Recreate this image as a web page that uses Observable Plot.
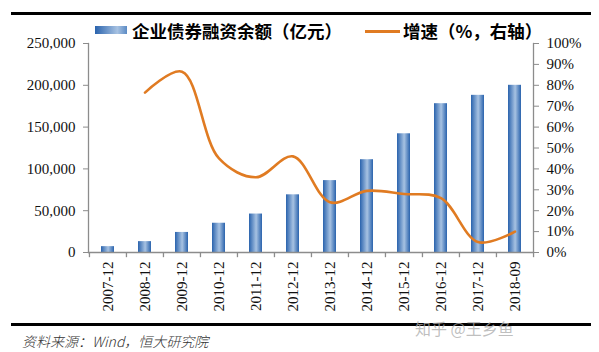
<!DOCTYPE html>
<html><head><meta charset="utf-8">
<script src="https://cdn.jsdelivr.net/npm/d3@7"></script>
<script src="https://cdn.jsdelivr.net/npm/@observablehq/plot@0.6"></script>
<style>
html,body{margin:0;padding:0;background:#fff;}
#wrap{position:relative;width:599px;height:352px;overflow:hidden;background:#fff;}
#wrap svg{position:absolute;left:0;top:0;}
.rule{position:absolute;background:#000;}
.leg{position:absolute;font-family:"Noto Sans CJK SC",sans-serif;font-weight:700;font-size:17.5px;color:#000;white-space:nowrap;line-height:1;}
.src{position:absolute;left:22px;top:331px;font-family:"Noto Sans CJK SC",sans-serif;font-style:italic;font-weight:300;font-size:14px;color:#333;white-space:nowrap;}
.wm{position:absolute;left:415px;top:316px;font-family:"Noto Sans CJK SC",sans-serif;font-size:16px;color:rgba(170,170,170,0.75);white-space:nowrap;}
</style></head>
<body><div id="wrap"></div>
<script>
const categories = ["2007-12","2008-12","2009-12","2010-12","2011-12","2012-12","2013-12","2014-12","2015-12","2016-12","2017-12","2018-09"];
const balance = [7000,13000,24000,35000,46000,69000,86000,111000,142000,178000,188000,200000];
const growth = [null,76.5,86.5,45,36,46,24,29.5,28,26,5,10];
const leftTicks = [0,50000,100000,150000,200000,250000];
const rightTicks = [0,10,20,30,40,50,60,70,80,90,100];
const seriesNames = ["企业债券融资余额（亿元）","增速（%，右轴）"];
const sourceText = "资料来源：Wind，恒大研究院";
const watermark = "知乎 @王乡鱼";

const K = 2500; // 100% on right axis == 250,000 on left axis
const bars = categories.map((c,i)=>({c, v: balance[i]}));
const line = categories.map((c,i)=>({c, g: growth[i]})).filter(d=>d.g!=null);
const edges = categories.map(c=>({c, side: -0.5}));
edges.push({c: categories[categories.length-1], side: 0.5});

const W = 599, H = 352, mL = 88, mR = 66, mT = 43, mB = 100;
const step = (W - mL - mR) / categories.length;
const serif = "'Liberation Serif','Times New Roman',serif";
const axisColor = "#8c8c8c";

const chart = Plot.plot({
  width: W, height: H,
  marginLeft: mL, marginRight: mR, marginTop: mT, marginBottom: mB,
  style: {fontFamily: serif, fontSize: "15px", color: "#111", background: "transparent", overflow: "visible"},
  x: {type: "band", domain: categories, padding: 0, axis: null},
  y: {domain: [0, 250000], axis: null},
  marks: [
    Plot.barY(bars, {x: "c", y: "v", fill: "url(#barGrad)", insetLeft: 12, insetRight: 12}),
    Plot.line(line, {x: "c", y: d => d.g * K, stroke: "#e07b22", strokeWidth: 2.6, curve: "catmull-rom"}),
    Plot.frame({anchor: "left", stroke: axisColor, strokeWidth: 1.3}),
    Plot.frame({anchor: "right", stroke: axisColor, strokeWidth: 1.3}),
    Plot.frame({anchor: "bottom", stroke: axisColor, strokeWidth: 1.3}),
    Plot.ruleX(edges, {x: "c", y1: 0, y2: -6200, stroke: axisColor, strokeWidth: 1.3}),
    Plot.axisY({ticks: leftTicks, tickFormat: d3.format(","), anchor: "left", tickSize: 5, tickPadding: 8, stroke: axisColor, fontSize: 15, label: null}),
    Plot.axisY({ticks: rightTicks.map(t => t * K), tickFormat: d => (d / K) + "%", anchor: "right", tickSize: 5, tickPadding: 8, stroke: axisColor, fontSize: 15, label: null}),
    Plot.axisX({anchor: "bottom", tickSize: 0, tickPadding: 9, tickRotate: -90, fontSize: 15, label: null})
  ]
});

const svg = d3.select(chart);
const defs = svg.insert("defs", ":first-child");
const g = defs.append("linearGradient").attr("id","barGrad").attr("x1","0%").attr("x2","100%").attr("y1","0%").attr("y2","0%");
g.append("stop").attr("offset","0%").attr("stop-color","#2a63ad");
g.append("stop").attr("offset","55%").attr("stop-color","#a7c2e2");
g.append("stop").attr("offset","100%").attr("stop-color","#2a63ad");

const wrap = document.getElementById("wrap");
wrap.appendChild(chart);

// move the category-boundary ticks from band centers to band edges
chart.querySelectorAll("g[aria-label='rule'] line").forEach((ln, i) => {
  const shift = edges[i].side * step;
  ln.setAttribute("x1", +ln.getAttribute("x1") + shift);
  ln.setAttribute("x2", +ln.getAttribute("x2") + shift);
});

function addDiv(cls, style, text){const d=document.createElement("div");d.className=cls;Object.assign(d.style,style);if(text!=null)d.textContent=text;wrap.appendChild(d);return d;}
addDiv("rule",{left:"11px",top:"12px",width:"580px",height:"3px"});
addDiv("rule",{left:"11px",top:"323px",width:"580px",height:"3px"});
addDiv("",{position:"absolute",left:"95px",top:"26px",width:"32px",height:"8px",background:"linear-gradient(to right,#2a63ad,#a7c2e2 70%,#5b8ac4)"});
addDiv("leg",{left:"132px",top:"22px"},seriesNames[0]);
addDiv("",{position:"absolute",left:"365px",top:"30px",width:"35px",height:"2.6px",background:"#e07b22"});
addDiv("leg",{left:"403px",top:"22px"},seriesNames[1]);
addDiv("src",{},sourceText);
addDiv("wm",{},watermark);
</script>
</body></html>
